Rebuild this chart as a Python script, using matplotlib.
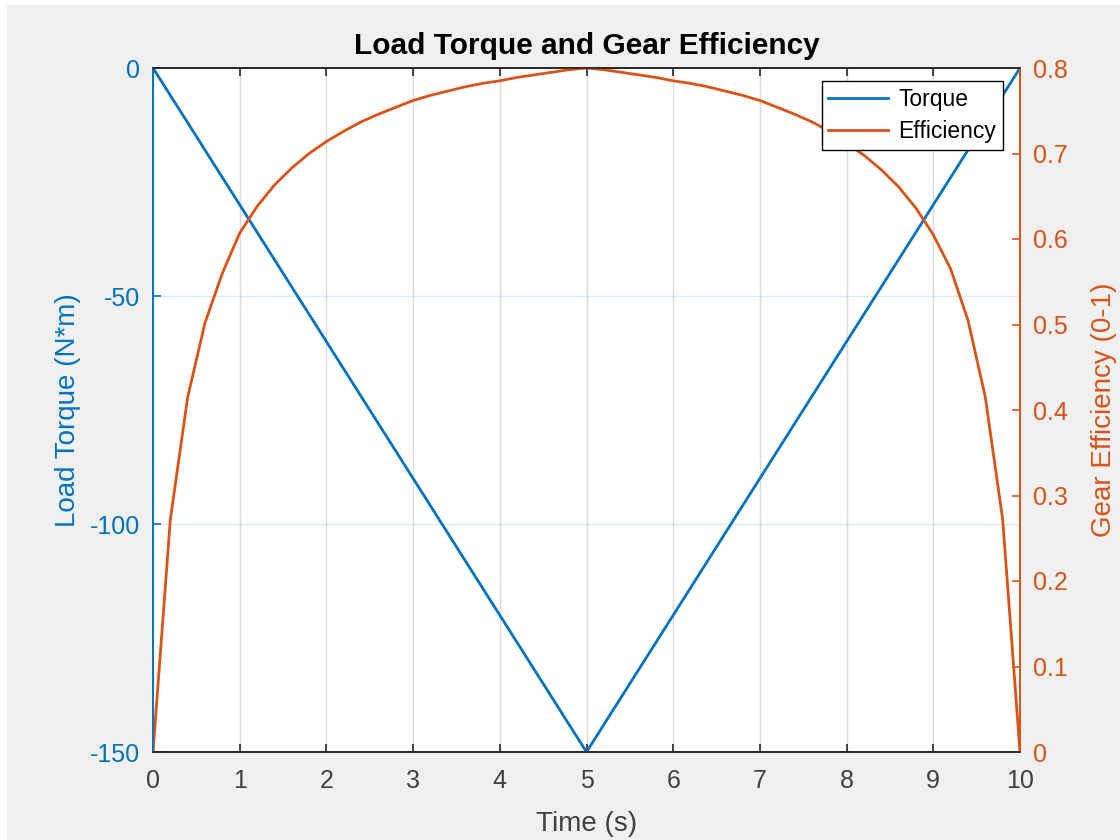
import matplotlib
matplotlib.use("Agg")
import matplotlib.pyplot as plt
from matplotlib.patches import Rectangle

# data
torque_time = [0, 5, 10]
torque = [0, -150, 0]

eff_time = [0.0, 0.2, 0.4, 0.6, 0.8, 1.0, 1.2, 1.4, 1.6, 1.8, 2.0, 2.2, 2.4, 2.6, 2.8,
            3.0, 3.2, 3.4, 3.6, 3.8, 4.0, 4.2, 4.4, 4.6, 4.8, 5.0,
            5.2, 5.4, 5.6, 5.8, 6.0, 6.2, 6.4, 6.6, 6.8, 7.0, 7.2, 7.4, 7.6, 7.8,
            8.0, 8.2, 8.4, 8.6, 8.8, 9.0, 9.2, 9.4, 9.6, 9.8, 10.0]
efficiency = [0.000, 0.272, 0.415, 0.502, 0.560, 0.607, 0.638, 0.663, 0.683, 0.700,
              0.714, 0.726, 0.737, 0.746, 0.754, 0.762, 0.768, 0.773, 0.778, 0.782,
              0.785, 0.789, 0.792, 0.795, 0.798, 0.800,
              0.798, 0.795, 0.792, 0.789, 0.785, 0.782, 0.778, 0.773, 0.768, 0.762,
              0.754, 0.746, 0.737, 0.726, 0.712, 0.698, 0.681, 0.661, 0.636, 0.605,
              0.565, 0.505, 0.415, 0.272, 0.000]

x_ticks = list(range(0, 11))
torque_ticks = [-150, -100, -50, 0]
eff_ticks = [0, 0.1, 0.2, 0.3, 0.4, 0.5, 0.6, 0.7, 0.8]

BLUE = "#0072BD"
ORANGE = "#D95319"
DARK = "#262626"
GREY_TXT = "#404040"

plt.rcParams["font.family"] = ["Liberation Sans", "DejaVu Sans"]
plt.rcParams["axes.unicode_minus"] = False

fig = plt.figure(figsize=(11.2, 8.4), dpi=100, facecolor="#f0f0f0")
# thin white edge on top and left, as in the screenshot
fig.patches.append(Rectangle((0, 0), 7 / 1120, 1, transform=fig.transFigure,
                             facecolor="white", edgecolor="none", zorder=-10))
fig.patches.append(Rectangle((0, 1 - 5 / 840), 1, 5 / 840, transform=fig.transFigure,
                             facecolor="white", edgecolor="none", zorder=-10))

ax = fig.add_axes([153 / 1120, 1 - 752 / 840, (1020 - 153) / 1120, (752 - 68) / 840])
ax2 = ax.twinx()

l1, = ax.plot(torque_time, torque, color=BLUE, lw=2, label="Torque")
l2, = ax2.plot(eff_time, efficiency, color=ORANGE, lw=2, label="Efficiency")

ax.set_xlim(0, 10)
ax.set_ylim(-150, 0)
ax2.set_ylim(0, 0.8)
ax.set_xticks(x_ticks)
ax.set_yticks(torque_ticks)
ax2.set_yticks(eff_ticks)
ax2.set_yticklabels(["0", "0.1", "0.2", "0.3", "0.4", "0.5", "0.6", "0.7", "0.8"])

# grid: vertical grey, horizontal tinted by the left axis
ax.grid(True, axis="x", color="#dadada", lw=1)
ax.grid(True, axis="y", color=BLUE, alpha=0.15, lw=1)
ax.set_axisbelow(True)

ax.tick_params(axis="x", direction="in", top=True, length=6, width=1.2,
               colors=DARK, labelsize=18, pad=12, labelcolor=GREY_TXT)
ax.tick_params(axis="y", direction="in", length=6, width=1.2,
               colors=BLUE, labelsize=18, pad=9)
ax2.tick_params(axis="y", direction="in", length=6, width=1.2,
                colors=ORANGE, labelsize=18, pad=9)

for a in (ax, ax2):
    a.spines["top"].set_color(DARK)
    a.spines["bottom"].set_color(DARK)
    a.spines["left"].set_color(BLUE)
    a.spines["right"].set_color(ORANGE)
    for s in a.spines.values():
        s.set_linewidth(1.2)

ax.set_xlabel("Time (s)", fontsize=20, color=GREY_TXT, labelpad=13)
ax.set_ylabel("Load Torque (N*m)", fontsize=20, color=BLUE, labelpad=7)
ax2.set_ylabel("Gear Efficiency (0-1)", fontsize=20, color=ORANGE, labelpad=17)
ax.set_title("Load Torque and Gear Efficiency", fontsize=21.5, fontweight="bold",
             color="black", pad=10)

leg = ax2.legend([l1, l2], ["Torque", "Efficiency"], loc="upper right",
                 bbox_to_anchor=(0.9805, 0.981), fontsize=16.5, fancybox=False,
                 framealpha=1, edgecolor="black", handlelength=2.6,
                 borderpad=0.3, labelspacing=0.42, handletextpad=0.45,
                 borderaxespad=0)
leg.get_frame().set_linewidth(1.0)

fig.savefig("out.png", dpi=100, facecolor=fig.get_facecolor())
